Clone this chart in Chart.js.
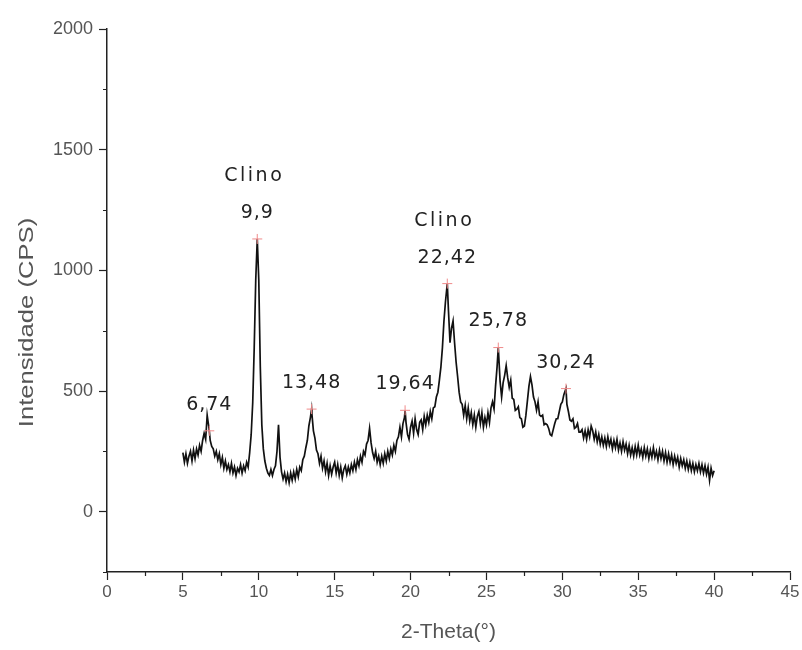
<!DOCTYPE html>
<html lang="pt">
<head>
<meta charset="UTF-8">
<title>Difratograma</title>
<script src="https://cdn.jsdelivr.net/npm/chart.js@4.4.0/dist/chart.umd.min.js"></script>
<style>
  html, body { margin: 0; padding: 0; background: #fff; }
  #wrap { width: 802px; height: 650px; position: relative; }
</style>
</head>
<body>
<div id="wrap"><canvas id="grafico"></canvas></div>
<script>
const doisTheta = [
  5.0, 5.1, 5.2, 5.3, 5.4, 5.5, 5.6, 5.7, 5.8, 5.9,
  6.0, 6.1, 6.2, 6.3, 6.4, 6.5, 6.6, 6.7, 6.74, 6.8, 6.9,
  7.0, 7.1, 7.2, 7.3, 7.4, 7.5, 7.6, 7.7, 7.8, 7.9,
  8.0, 8.1, 8.2, 8.3, 8.4, 8.5, 8.6, 8.7, 8.8, 8.9,
  9.0, 9.1, 9.2, 9.3, 9.4, 9.5, 9.6, 9.7, 9.8, 9.9,
  10.0, 10.1, 10.2, 10.3, 10.4, 10.5, 10.6, 10.7, 10.8, 10.9,
  11.0, 11.1, 11.2, 11.3, 11.4, 11.5, 11.6, 11.7, 11.8, 11.9,
  12.0, 12.1, 12.2, 12.3, 12.4, 12.5, 12.6, 12.7, 12.8, 12.9,
  13.0, 13.1, 13.2, 13.3, 13.4, 13.48, 13.5, 13.6, 13.7, 13.8, 13.9,
  14.0, 14.1, 14.2, 14.3, 14.4, 14.5, 14.6, 14.7, 14.8, 14.9,
  15.0, 15.1, 15.2, 15.3, 15.4, 15.5, 15.6, 15.7, 15.8, 15.9,
  16.0, 16.1, 16.2, 16.3, 16.4, 16.5, 16.6, 16.7, 16.8, 16.9,
  17.0, 17.1, 17.2, 17.3, 17.4, 17.5, 17.6, 17.7, 17.8, 17.9,
  18.0, 18.1, 18.2, 18.3, 18.4, 18.5, 18.6, 18.7, 18.8, 18.9,
  19.0, 19.1, 19.2, 19.3, 19.4, 19.5, 19.6, 19.64, 19.7, 19.8, 19.9,
  20.0, 20.1, 20.2, 20.3, 20.4, 20.5, 20.6, 20.7, 20.8, 20.9,
  21.0, 21.1, 21.2, 21.3, 21.4, 21.5, 21.6, 21.7, 21.8, 21.9,
  22.0, 22.1, 22.2, 22.3, 22.42, 22.5, 22.6, 22.7, 22.8, 22.9,
  23.0, 23.1, 23.2, 23.3, 23.4, 23.5, 23.6, 23.7, 23.8, 23.9,
  24.0, 24.1, 24.2, 24.3, 24.4, 24.5, 24.6, 24.7, 24.8, 24.9,
  25.0, 25.1, 25.2, 25.3, 25.4, 25.5, 25.6, 25.7, 25.78, 25.9,
  26.0, 26.1, 26.2, 26.3, 26.4, 26.5, 26.6, 26.7, 26.8, 26.9,
  27.0, 27.1, 27.2, 27.3, 27.4, 27.5, 27.6, 27.7, 27.8, 27.9,
  28.0, 28.1, 28.2, 28.3, 28.4, 28.5, 28.6, 28.7, 28.8, 28.9,
  29.0, 29.1, 29.2, 29.3, 29.4, 29.5, 29.6, 29.7, 29.8, 29.9,
  30.0, 30.1, 30.24, 30.3, 30.4, 30.5, 30.6, 30.7, 30.8, 30.9,
  31.0, 31.1, 31.2, 31.3, 31.4, 31.5, 31.6, 31.7, 31.8, 31.9,
  32.0, 32.1, 32.2, 32.3, 32.4, 32.5, 32.6, 32.7, 32.8, 32.9,
  33.0, 33.1, 33.2, 33.3, 33.4, 33.5, 33.6, 33.7, 33.8, 33.9,
  34.0, 34.1, 34.2, 34.3, 34.4, 34.5, 34.6, 34.7, 34.8, 34.9,
  35.0, 35.1, 35.2, 35.3, 35.4, 35.5, 35.6, 35.7, 35.8, 35.9,
  36.0, 36.1, 36.2, 36.3, 36.4, 36.5, 36.6, 36.7, 36.8, 36.9,
  37.0, 37.1, 37.2, 37.3, 37.4, 37.5, 37.6, 37.7, 37.8, 37.9,
  38.0, 38.1, 38.2, 38.3, 38.4, 38.5, 38.6, 38.7, 38.8, 38.9,
  39.0, 39.1, 39.2, 39.3, 39.4, 39.5, 39.6, 39.7, 39.8, 39.9,
  40.0
];

// Intensidade (CPS) em cada ponto de doisTheta
const intensidade = [
  245, 205, 240, 200, 230, 250, 210, 255, 220, 260,
  235, 275, 250, 295, 325, 300, 400, 355, 335, 295, 270,
  260, 230, 250, 215, 240, 195, 225, 180, 210, 175,
  195, 165, 200, 160, 185, 150, 180, 165, 195, 160,
  190, 170, 205, 185, 245, 320, 450, 680, 960, 1130,
  960, 600, 360, 260, 210, 180, 160, 150, 175, 150,
  175, 190, 250, 360, 225, 165, 135, 160, 125, 155,
  120, 160, 130, 165, 135, 175, 145, 185, 170, 215,
  230, 265, 295, 355, 390, 425, 405, 335, 305, 255, 240,
  200, 230, 180, 210, 165, 200, 150, 190, 155, 185,
  205, 160, 195, 150, 185, 140, 175, 190, 155, 185,
  160, 195, 170, 205, 175, 215, 190, 230, 205, 250,
  235, 280, 295, 345, 285, 245, 220, 250, 205, 230,
  195, 230, 200, 240, 210, 250, 220, 260, 235, 275,
  250, 295, 310, 350, 310, 365, 390, 420, 370, 320, 300,
  350, 375, 325, 385, 340, 320, 370, 380, 340, 395,
  360, 400, 370, 415, 385, 430, 435, 475, 495, 545,
  600, 680, 790, 870, 945, 830, 700, 760, 790, 700,
  620, 560, 495, 455, 445, 400, 440, 385, 430, 375,
  410, 360, 400, 350, 395, 415, 365, 410, 350, 390,
  360, 410, 370, 430, 455, 425, 520, 600, 680, 540,
  475, 535, 565, 605, 555, 515, 545, 470, 465, 420,
  425, 435, 390, 385, 350, 355, 400, 460, 520, 560,
  525, 475, 455, 420, 455, 400, 395, 400, 360, 365,
  360, 345, 320, 315, 340, 365, 385, 385, 415, 445,
  455, 485, 510, 445, 415, 380, 375, 385, 345, 350,
  365, 330, 330, 340, 305, 335, 300, 340, 310, 355,
  335, 300, 330, 290, 320, 280, 310, 275, 305, 270,
  310, 275, 300, 260, 295, 265, 300, 255, 285, 250,
  290, 255, 280, 240, 275, 235, 265, 230, 270, 235,
  275, 235, 260, 225, 265, 230, 260, 220, 255, 225,
  265, 225, 250, 215, 255, 220, 250, 210, 245, 205,
  240, 205, 235, 195, 230, 200, 225, 185, 220, 190,
  215, 180, 210, 175, 205, 170, 200, 165, 195, 170,
  200, 165, 195, 160, 190, 155, 185, 130, 180, 150,
  170
];

// Picos identificados
const picosPos = [6.74, 9.9, 13.48, 19.64, 22.42, 25.78, 30.24];
const picosInt = [335, 1130, 425, 420, 945, 680, 510];
const picosTexto = ['6,74', '9,9', '13,48', '19,64', '22,42', '25,78', '30,24'];
const picosFase = ['', 'Clino', '', '', 'Clino', '', ''];

const tituloY = 'Intensidade (CPS)';

const corTexto = '#222';
const corEixo = '#555';

// marcas menores, título do eixo Y e rótulos dos picos
const marcasPlugin = {
    id: 'marcas',
    afterDraw(chart) {
        const ctx = chart.ctx;
        const sx = chart.scales.x, sy = chart.scales.y;
        const area = chart.chartArea;
        ctx.save();
        ctx.strokeStyle = corTexto;
        ctx.lineWidth = 1.2;
        ctx.beginPath();
        sx.ticks.forEach(t => {
            if (t.value % 5 !== 0) {
                const px = Math.round(sx.getPixelForValue(t.value)) + 0.5;
                ctx.moveTo(px, area.bottom);
                ctx.lineTo(px, area.bottom + 4);
            }
        });
        sy.ticks.forEach(t => {
            if (t.value % 500 !== 0) {
                const py = Math.round(sy.getPixelForValue(t.value)) + 0.5;
                ctx.moveTo(area.left, py);
                ctx.lineTo(area.left - 4, py);
            }
        });
        ctx.stroke();

        // título Y (um pouco alongado, como no original)
        ctx.save();
        ctx.translate(27, (area.top + area.bottom) / 2 + 22);
        ctx.rotate(-Math.PI / 2);
        ctx.scale(1.22, 1);
        ctx.fillStyle = corEixo;
        ctx.font = '21px "Liberation Sans"';
        ctx.textAlign = 'center';
        ctx.textBaseline = 'middle';
        ctx.fillText(tituloY, 0, 0);
        ctx.restore();

        ctx.fillStyle = corTexto;
        ctx.textAlign = 'center';
        ctx.textBaseline = 'middle';
        picosPos.forEach((p, i) => {
            const px = sx.getPixelForValue(p);
            const py = sy.getPixelForValue(picosInt[i]);
            ctx.font = '19px "DejaVu Sans"';
            ctx.letterSpacing = '1px';
            ctx.fillText(picosTexto[i], px, py - 26);
            if (picosFase[i]) {
                ctx.letterSpacing = '2.5px';
                ctx.fillText(picosFase[i], px - 3, py - 63);
            }
        });
        ctx.restore();
    }
};

const ctx = document.getElementById('grafico').getContext('2d');
new Chart(ctx, {
    type: 'line',
    data: {
        datasets: [
            {
                label: 'Picos',
                type: 'scatter',
                data: picosPos.map((p, i) => ({ x: p, y: picosInt[i] })),
                pointStyle: 'cross',
                pointRadius: 5,
                borderColor: '#f08a8a',
                borderWidth: 1,
                order: 0
            },
            {
                label: 'Amostra',
                data: doisTheta.map((t, i) => ({ x: t, y: intensidade[i] })),
                borderColor: '#111',
                borderWidth: 1.7,
                pointRadius: 0,
                tension: 0,
                fill: false,
                order: 1
            }
        ]
    },
    options: {
        responsive: true,
        maintainAspectRatio: false,
        animation: false,
        layout: { padding: { top: 29, right: 12, left: 0, bottom: 0 } },
        plugins: { legend: { display: false }, tooltip: { enabled: false } },
        scales: {
            x: {
                type: 'linear',
                min: 0, max: 45,
                ticks: {
                    stepSize: 2.5,
                    autoSkip: false,
                    maxRotation: 0,
                    color: corEixo,
                    font: { family: 'Liberation Sans', size: 17 },
                    padding: 2,
                    callback: v => (v % 5 === 0 ? String(v) : '')
                },
                grid: {
                    drawOnChartArea: false,
                    drawTicks: true,
                    tickLength: 8,
                    tickWidth: 1.2,
                    tickColor: c => (c.tick && c.tick.value % 5 === 0 ? corTexto : 'transparent')
                },
                border: { display: true, color: corTexto, width: 1.5 },
                title: {
                    display: true,
                    text: '2-Theta(°)',
                    color: corEixo,
                    font: { family: 'Liberation Sans', size: 21 },
                    padding: { top: 4, bottom: 5 }
                },
                afterFit: s => { s.height = 78; }
            },
            y: {
                type: 'linear',
                min: -250, max: 2000,
                ticks: {
                    stepSize: 250,
                    autoSkip: false,
                    color: corEixo,
                    font: { family: 'Liberation Sans', size: 18 },
                    padding: 6,
                    callback: v => (v % 500 === 0 && v >= 0 ? String(v) : '')
                },
                grid: {
                    drawOnChartArea: false,
                    drawTicks: true,
                    tickLength: 8,
                    tickWidth: 1.2,
                    tickColor: c => (c.tick && c.tick.value % 500 === 0 && c.tick.value >= 0 ? corTexto : 'transparent')
                },
                border: { display: true, color: corTexto, width: 1.5 },
                title: { display: false },
                afterFit: s => { s.width = 107; }
            }
        }
    },
    plugins: [marcasPlugin]
});
</script>
</body>
</html>
